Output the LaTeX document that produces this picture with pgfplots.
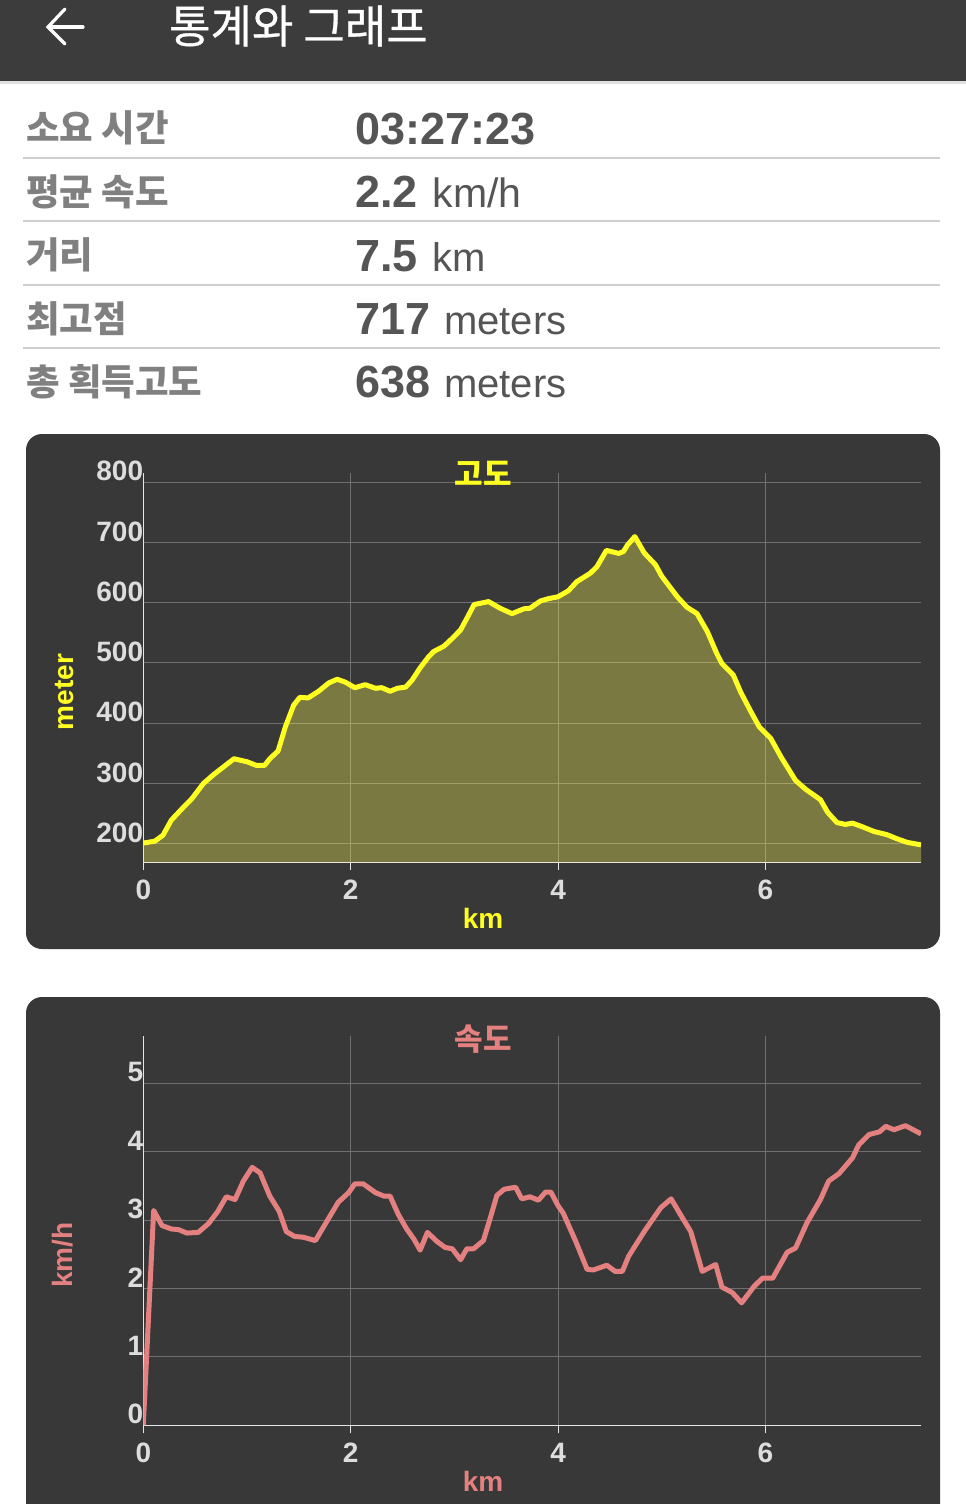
\documentclass[border=0pt]{standalone}
\usepackage{fontspec}
\setmainfont{Liberation Sans}
\newfontfamily\kr{Noto Sans CJK KR}
\newfontfamily\krm[RawFeature={embolden=0.7}]{Noto Sans CJK KR}
\usepackage{pgfplots}
\usepackage{pgfplotstable}
\pgfplotsset{compat=1.18}
\definecolor{panel}{HTML}{383838}
\definecolor{hdr}{HTML}{3C3C3C}
\definecolor{lbl}{HTML}{808080}
\definecolor{val}{HTML}{555555}
\definecolor{ticktxt}{HTML}{DDDDDD}
\definecolor{gridc}{HTML}{707070}
\definecolor{axc}{HTML}{E4E4E4}
\definecolor{yel}{HTML}{FFFF22}
\definecolor{yelfill}{HTML}{FFFF55}
\definecolor{pink}{HTML}{E58080}
\definecolor{sep}{HTML}{CFCFCF}
\newcommand{\fs}[1]{\fontsize{#1}{#1}\selectfont}
\pgfplotstableread{
km ele
0 201
0.11 204
0.19 214
0.27 239
0.39 261
0.47 275
0.58 300
0.68 315
0.77 327
0.875 341
1.0 336
1.09 330
1.17 330
1.22 341
1.30 354
1.37 394
1.45 430
1.51 443
1.59 442
1.69 453
1.79 467
1.87 473
1.95 468
2.04 459
2.14 464
2.24 458
2.30 459
2.38 453
2.45 458
2.53 460
2.59 471
2.67 492
2.75 510
2.80 519
2.90 528
2.98 541
3.06 555
3.12 574
3.19 597
3.33 602
3.44 591
3.556 582
3.67 590
3.73 591
3.83 603
3.91 607
4.0 610
4.10 620
4.18 635
4.31 649
4.375 660
4.466 687
4.585 682
4.63 685
4.67 696
4.74 710
4.83 683
4.94 663
5.00 644
5.15 610
5.24 593
5.34 582
5.44 552
5.53 516
5.58 499
5.69 480
5.76 452
5.86 419
5.94 394
6.05 375
6.15 344
6.29 305
6.39 290
6.53 273
6.60 252
6.69 235
6.77 232
6.84 234
6.92 229
7.05 220
7.17 215
7.27 208
7.37 202
7.5 198
}\eletable
\pgfplotstableread{
km spd
0 0
0.10 3.14
0.18 2.92
0.27 2.87
0.34 2.86
0.42 2.81
0.53 2.82
0.63 2.95
0.72 3.13
0.80 3.34
0.885 3.30
0.965 3.57
1.05 3.77
1.126 3.69
1.22 3.35
1.31 3.13
1.38 2.83
1.46 2.76
1.54 2.75
1.66 2.70
1.75 2.93
1.88 3.26
1.98 3.40
2.04 3.53
2.12 3.53
2.24 3.40
2.32 3.35
2.38 3.35
2.46 3.08
2.54 2.87
2.61 2.72
2.67 2.56
2.74 2.82
2.83 2.69
2.91 2.60
2.98 2.58
3.06 2.42
3.12 2.58
3.185 2.58
3.28 2.70
3.35 3.05
3.41 3.36
3.48 3.45
3.59 3.48
3.65 3.31
3.73 3.34
3.81 3.29
3.88 3.41
3.93 3.41
4.0 3.21
4.05 3.10
4.17 2.69
4.28 2.28
4.34 2.27
4.47 2.34
4.55 2.25
4.62 2.25
4.68 2.47
4.83 2.83
4.99 3.18
5.09 3.31
5.18 3.08
5.28 2.83
5.39 2.25
5.52 2.35
5.58 2.02
5.68 1.94
5.77 1.79
5.89 2.03
5.97 2.15
6.07 2.15
6.21 2.53
6.29 2.59
6.40 2.96
6.53 3.30
6.61 3.57
6.71 3.68
6.84 3.91
6.90 4.10
7.0 4.25
7.10 4.29
7.16 4.37
7.24 4.32
7.35 4.38
7.5 4.26
}\spdtable
\pgfplotsset{
  panelaxis/.style={
    scale only axis, width=777.7pt,
    axis x line*=bottom, axis y line*=left,
    axis line style={axc,line width=1.2pt,-},
    xmin=0, xmax=7.5, xtick={0,2,4,6},
    grid=major, grid style={gridc,line width=1pt},
    major tick length=8pt, tick align=outside,
    xtick style={draw=axc,line width=1pt},
    ytick style={draw=none},
    /pgf/number format/assume math mode=true,
    tick label style={font=\fs{28}\bfseries,text=ticktxt},
    xticklabel style={yshift=-6pt},
    yticklabel style={anchor=east,inner sep=0pt,yshift=11pt,xshift=8pt},
    every axis title/.append style={anchor=center},
    title style={font=\kr\bfseries\fs{31}},
    xlabel style={font=\fs{28}\bfseries,anchor=center},
    ylabel style={font=\fs{28}\bfseries,anchor=center,rotate=0},
  }
}
\begin{document}
\begin{tikzpicture}[x=1pt,y=1pt]
\useasboundingbox (0,0) rectangle (966,-1504);
\clip (0,0) rectangle (966,-1504);
\fill[white] (0,0) rectangle (966,-1504);
% header
\fill[black!12] (0,-81) rectangle (966,-84);
\fill[hdr] (0,0) rectangle (966,-81);
\draw[white,line width=3.2pt,line cap=round,line join=miter] (83,-27) -- (49,-27);
\draw[white,line width=3.2pt,line cap=round,line join=miter] (65,-9) -- (48,-27) -- (65,-44);
\node[anchor=west,inner sep=0pt,text=white] at (169,-26) {\krm\fs{45}통계와 그래프};
% rows
\foreach \yy in {158,221,285,348} \draw[sep,line width=2.6pt] (23,-\yy) -- (940,-\yy);
\node[anchor=west,inner sep=0pt,text=lbl] at (26,-128) {\kr\bfseries\fs{36.5}소요 시간};
\node[anchor=west,inner sep=0pt,text=lbl] at (26,-192) {\kr\bfseries\fs{36.5}평균 속도};
\node[anchor=west,inner sep=0pt,text=lbl] at (26,-255) {\kr\bfseries\fs{36.5}거리};
\node[anchor=west,inner sep=0pt,text=lbl] at (26,-319) {\kr\bfseries\fs{36.5}최고점};
\node[anchor=west,inner sep=0pt,text=lbl] at (26,-382) {\kr\bfseries\fs{36.5}총 획득고도};
\node[anchor=base west,inner sep=0pt,text=val] at (355,-144.5) {\bfseries\fs{45}03:27:23};
\node[anchor=base west,inner sep=0pt,text=val] at (355,-207.5) {{\bfseries\fs{45}2.2}\hspace{15pt}{\fs{41}km/h}};
\node[anchor=base west,inner sep=0pt,text=val] at (355,-271.5) {{\bfseries\fs{45}7.5}\hspace{15pt}{\fs{40}km}};
\node[anchor=base west,inner sep=0pt,text=val] at (355,-334.5) {{\bfseries\fs{45}717}\hspace{14pt}{\fs{40}meters}};
\node[anchor=base west,inner sep=0pt,text=val] at (355,-397.5) {{\bfseries\fs{45}638}\hspace{14pt}{\fs{40}meters}};
% panels
\fill[panel,rounded corners=16pt] (26,-434) rectangle (940,-949);
\fill[panel,rounded corners=16pt] (26,-997) rectangle (940,-1560);
% elevation
\begin{axis}[panelaxis,
  at={(143.3pt,-862.3pt)}, anchor=south west, height=389.6pt,
  ymin=169, ymax=816, ytick={200,300,400,500,600,700,800},
  title={고도}, title style={text=yel,at={(axis description cs:0.4368,0.984)}},
  xlabel={km}, xlabel style={text=yel,at={(axis description cs:0.4368,-0.143)}},
  ylabel={meter}, ylabel style={text=yel,at={(axis description cs:-0.1007,0.437)},rotate=0},
]
\addplot[draw=none,fill=yelfill,fill opacity=0.33] table[x=km,y=ele] {\eletable} \closedcycle;
\addplot[yel,line width=5pt,line join=round] table[x=km,y=ele] {\eletable};
\end{axis}
% speed
\begin{axis}[panelaxis,
  at={(143.3pt,-1425.3pt)}, anchor=south west, height=389.3pt,
  ymin=0, ymax=5.69, ytick={0,1,2,3,4,5},
  title={속도}, title style={text=pink,at={(axis description cs:0.4368,0.977)}},
  xlabel={km}, xlabel style={text=pink,at={(axis description cs:0.4368,-0.145)}},
  ylabel={km/h}, ylabel style={text=pink,at={(axis description cs:-0.1033,0.437)}},
]
\addplot[pink,line width=5pt,line join=round] table[x=km,y=spd] {\spdtable};
\end{axis}
\end{tikzpicture}
\end{document}
